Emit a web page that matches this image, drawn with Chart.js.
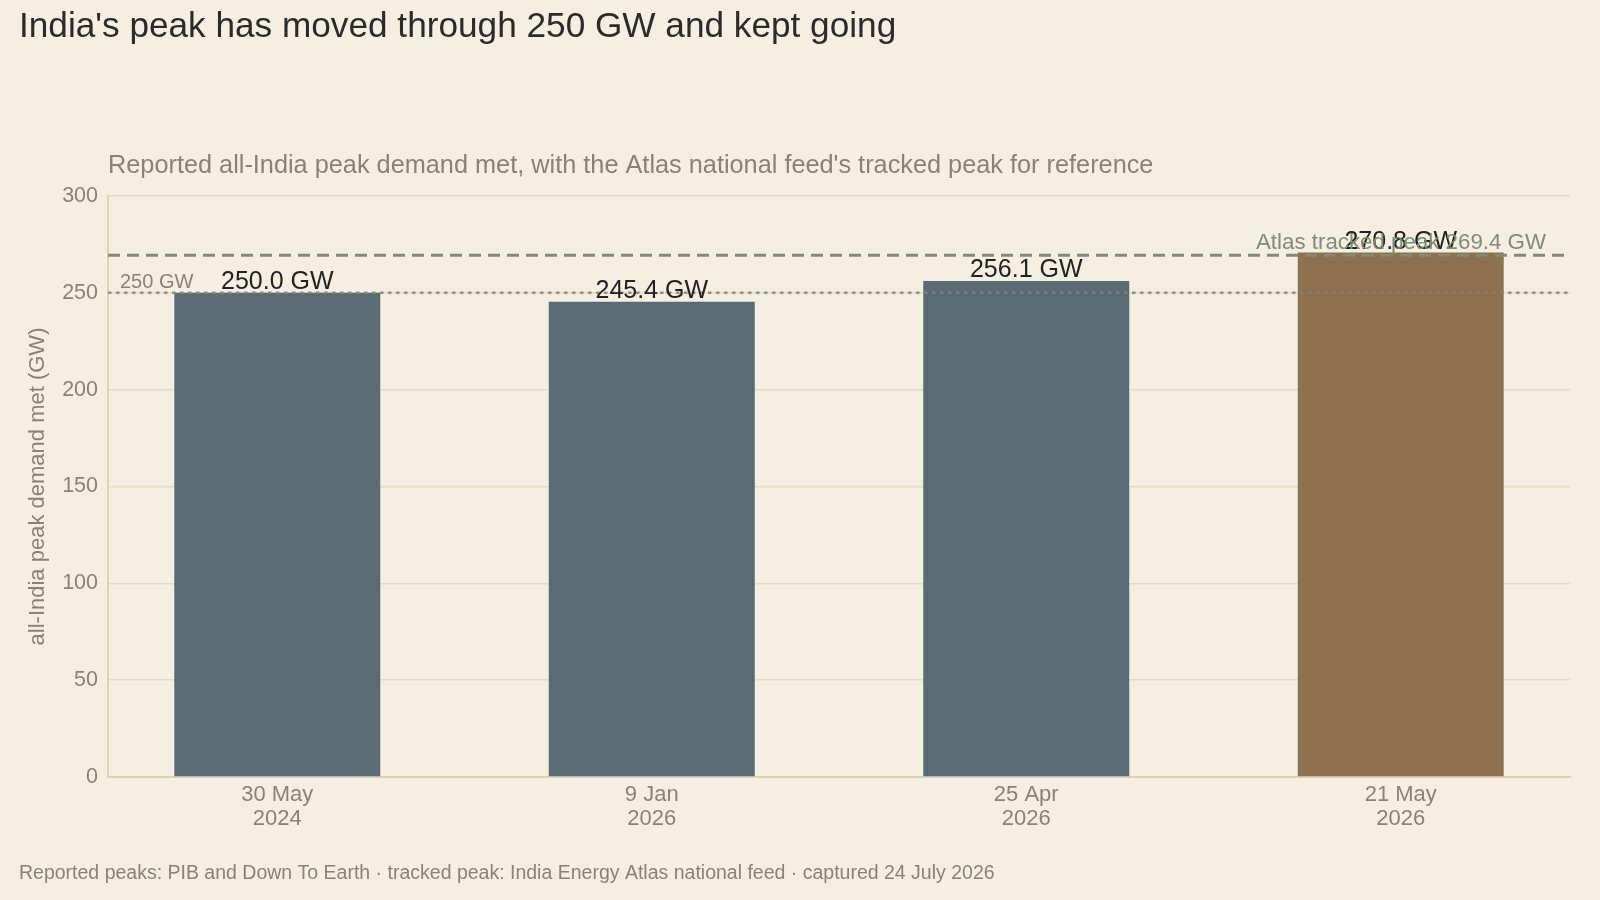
<!DOCTYPE html>
<html>
<head>
<meta charset="utf-8">
<script src="https://cdn.jsdelivr.net/npm/chart.js@4.4.1/dist/chart.umd.min.js"></script>
<style>
  html, body { margin: 0; padding: 0; background: #f5efe2; }
  #wrap { width: 1600px; height: 900px; position: relative; }
</style>
</head>
<body>
<div id="wrap"><canvas id="peakChart"></canvas></div>
<script>
// data
var categories = [['30 May', '2024'], ['9 Jan', '2026'], ['25 Apr', '2026'], ['21 May', '2026']];
var positions = [0, 1, 2, 3];
var peakValues = [250.0, 245.4, 256.1, 270.8];
var barColors = ['#5b6b73', '#5b6b73', '#5b6b73', '#8e7150'];
var yTicks = [0, 50, 100, 150, 200, 250, 300];
var trackedPeak = 269.4;
var threshold = 250;

var titleText = "India's peak has moved through 250 GW and kept going";
var subtitleText = "Reported all-India peak demand met, with the Atlas national feed's tracked peak for reference";
var footerText = 'Reported peaks: PIB and Down To Earth \u00b7 tracked peak: India Energy Atlas national feed \u00b7 captured 24 July 2026';

var FONT = '"Liberation Sans", Arial, sans-serif';

// titles, reference lines, value labels
var overlay = {
	id: 'overlay',
	beforeDraw: function(chart) {
		var ctx = chart.ctx;
		ctx.save();
		ctx.fillStyle = '#f5efe2';
		ctx.fillRect(0, 0, chart.width, chart.height);
		ctx.restore();
	},
	afterDatasetsDraw: function(chart) {
		var ctx = chart.ctx;
		var area = chart.chartArea;
		var y = chart.scales.y;
		ctx.save();

		// 250 GW dotted line
		var yT = y.getPixelForValue(threshold);
		ctx.strokeStyle = 'rgba(135,128,122,0.85)';
		ctx.lineWidth = 2.5;
		ctx.setLineDash([3.5, 4.5]);
		ctx.beginPath();
		ctx.moveTo(area.left, yT);
		ctx.lineTo(area.right, yT);
		ctx.stroke();

		// tracked peak dashed line
		var yP = y.getPixelForValue(trackedPeak);
		ctx.strokeStyle = '#7f8d74';
		ctx.lineWidth = 3;
		ctx.setLineDash([12, 7]);
		ctx.beginPath();
		ctx.moveTo(area.left, yP);
		ctx.lineTo(area.right, yP);
		ctx.stroke();
		ctx.setLineDash([]);

		ctx.textBaseline = 'alphabetic';
		ctx.font = '20px ' + FONT;
		ctx.fillStyle = '#8a8278';
		ctx.textAlign = 'left';
		ctx.fillText(threshold + ' GW', area.left + 12, yT - 5);

		// value labels
		var meta = chart.getDatasetMeta(0);
		ctx.font = '25px ' + FONT;
		ctx.fillStyle = '#222222';
		ctx.textAlign = 'center';
		meta.data.forEach(function(bar, i) {
			ctx.fillText(peakValues[i].toFixed(1) + ' GW', bar.x, bar.y - 4);
		});

		ctx.font = '22.3px ' + FONT;
		ctx.fillStyle = '#7f8d74';
		ctx.textAlign = 'right';
		ctx.fillText('Atlas tracked peak ' + trackedPeak.toFixed(1) + ' GW', area.right - 24, yP - 6);

		ctx.restore();
	},
	afterDraw: function(chart) {
		var ctx = chart.ctx;
		ctx.save();
		ctx.textBaseline = 'middle';
		ctx.textAlign = 'left';
		ctx.fillStyle = '#2b2b2b';
		ctx.font = '35.2px ' + FONT;
		ctx.fillText(titleText, 19, 27);
		ctx.fillStyle = '#8a8278';
		ctx.font = '25.3px ' + FONT;
		ctx.fillText(subtitleText, chart.chartArea.left, 166);
		ctx.font = '19.5px ' + FONT;
		ctx.fillText(footerText, 19, 874);
		ctx.restore();
	}
};

var chartArea = document.getElementById('peakChart').getContext('2d');
var myChart = new Chart(chartArea, {
	type: 'bar',
	data: {
		datasets: [{
			data: positions.map(function(p, i) { return { x: p, y: peakValues[i] }; }),
			backgroundColor: barColors,
			borderWidth: 0,
			barPercentage: 0.55,
			categoryPercentage: 1.0
		}]
	},
	options: {
		responsive: true,
		maintainAspectRatio: false,
		animation: false,
		devicePixelRatio: 1,
		layout: {
			padding: { top: 196, right: 30, bottom: 61, left: 0 }
		},
		plugins: {
			legend: { display: false },
			tooltip: { enabled: false }
		},
		scales: {
			x: {
				type: 'linear',
				min: -0.452,
				max: 3.452,
				offset: false,
				afterBuildTicks: function(s) {
					s.ticks = positions.map(function(v) { return { value: v }; });
				},
				grid: { display: false, drawTicks: false },
				border: { color: '#dcd2bb', width: 2 },
				ticks: {
					color: '#8a8278',
					font: { family: FONT, size: 22, lineHeight: 1.1 },
					padding: 6,
					maxRotation: 0,
					autoSkip: false,
					callback: function(v) { return categories[v]; }
				},
				afterFit: function(s) { s.height = 62; }
			},
			y: {
				min: 0,
				max: 300,
				afterBuildTicks: function(s) {
					s.ticks = yTicks.map(function(v) { return { value: v }; });
				},
				grid: { color: '#e4dbc5', lineWidth: 1.5, drawTicks: false },
				border: { color: '#dcd2bb', width: 2 },
				ticks: {
					color: '#8a8278',
					font: { family: FONT, size: 21.5 },
					padding: 10
				},
				title: {
					display: true,
					text: 'all-India peak demand met (GW)',
					color: '#8a8278',
					font: { family: FONT, size: 22 },
					padding: { top: 25, bottom: 0 }
				},
				afterFit: function(s) { s.width = 108; }
			}
		}
	},
	plugins: [overlay]
});
</script>
</body>
</html>
